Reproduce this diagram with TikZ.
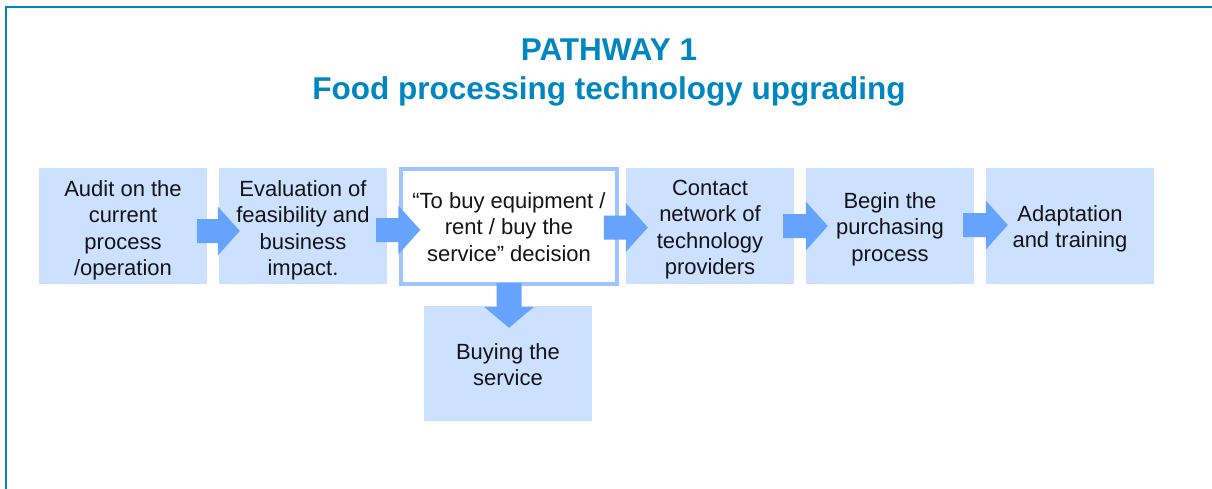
\documentclass[tikz,border=0pt]{standalone}
\usepackage{fontspec}
\setmainfont{Liberation Sans}
\usetikzlibrary{calc}
\definecolor{titleblue}{RGB}{0,134,192}
\definecolor{boxfill}{RGB}{204,224,255}
\definecolor{arrowblue}{RGB}{102,163,255}
\definecolor{boxline}{RGB}{160,196,255}
\definecolor{bodytext}{RGB}{20,20,20}
% invisible strut that lowers the text block of a node
\newcommand\lowerBy[1]{\rule{0pt}{#1}}
% horizontal block arrow: #1 source node, #2 target node, #3 overlap into source,
% #4 overlap into target, #5 vertical offset of axis
\newcommand\blockArrowH[5]{%
  \fill[arr] let \p1=($(#1.east)+(-#3,0)$), \p2=($(#2.west)+(#4,0)$) in
    (\x1,\y1-#5+12pt) -- (\x2-22pt,\y1-#5+12pt) -- (\x2-22pt,\y1-#5+24.5pt) -- (\x2,\y1-#5)
    -- (\x2-22pt,\y1-#5-24.5pt) -- (\x2-22pt,\y1-#5-12pt) -- (\x1,\y1-#5-12pt) -- cycle;}
\begin{document}
\begin{tikzpicture}[x=1pt,y=-1pt,
  stepbox/.style={rectangle, fill=boxfill, minimum width=168pt, minimum height=116pt,
    inner sep=0pt, align=center, font=\fontsize{22}{26.5}\selectfont, text=bodytext},
  decbox/.style={stepbox, fill=white, draw=boxline, line width=3.5pt,
    minimum width=216pt, minimum height=115pt},
  titletext/.style={font=\fontsize{31.5}{39}\selectfont\bfseries, text=titleblue,
    anchor=base, inner sep=0pt},
  frameline/.style={draw=titleblue, line width=2.5pt},
  arr/.style={fill=arrowblue}]
\useasboundingbox (0,0) rectangle (1212,489);

% frame
\coordinate (fbl) at (6,490);
\coordinate (ftl) at (6,7);
\coordinate (ftr) at (1213,7);
\draw[frameline] (fbl) -- (ftl) -- (ftr);

% title
\node[titletext] (t1) at (609,61) {PATHWAY 1};
\node[titletext] (t2) at (609,100) {Food processing technology upgrading};

% boxes
\node[stepbox] (b1) at (123,226) {\lowerBy{25pt}Audit on the\\current\\process\\/operation};
\node[stepbox] (b2) at (303,226) {\lowerBy{25pt}Evaluation of\\feasibility and\\business\\impact.};
\node[decbox]  (b3) at (509,226.5) {\lowerBy{17pt}“To buy equipment /\\rent / buy the\\service” decision};
\node[stepbox] (b4) at (710,226) {\lowerBy{23pt}Contact\\network of\\technology\\providers};
\node[stepbox] (b5) at (890,226) {\lowerBy{22pt}Begin the\\purchasing\\process};
\node[stepbox] (b6) at (1070,226) {\lowerBy{22pt}Adaptation\\and training};
\node[stepbox, minimum height=115pt] (b7) at (508,363.5) {\lowerBy{18pt}Buying the\\service};

% arrows
\blockArrowH{b1}{b2}{10pt}{21pt}{5pt}
\blockArrowH{b2}{b3}{11pt}{21pt}{4pt}
\blockArrowH{b3}{b4}{15pt}{22pt}{1pt}
\blockArrowH{b4}{b5}{11pt}{22pt}{0pt}
\blockArrowH{b5}{b6}{11pt}{22pt}{-1pt}
\fill[arr] let \p1=($(b3.south)+(0,-3)$), \p2=($(b7.north)+(0,22)$) in
  (\x1-12.5pt,\y1) -- (\x1+12.5pt,\y1) -- (\x1+12.5pt,\y2+21pt) -- (\x1+25pt,\y2+21pt)
  -- (\x1,\y2) -- (\x1-25pt,\y2+21pt) -- (\x1-12.5pt,\y2+21pt) -- cycle;
\end{tikzpicture}
\end{document}
